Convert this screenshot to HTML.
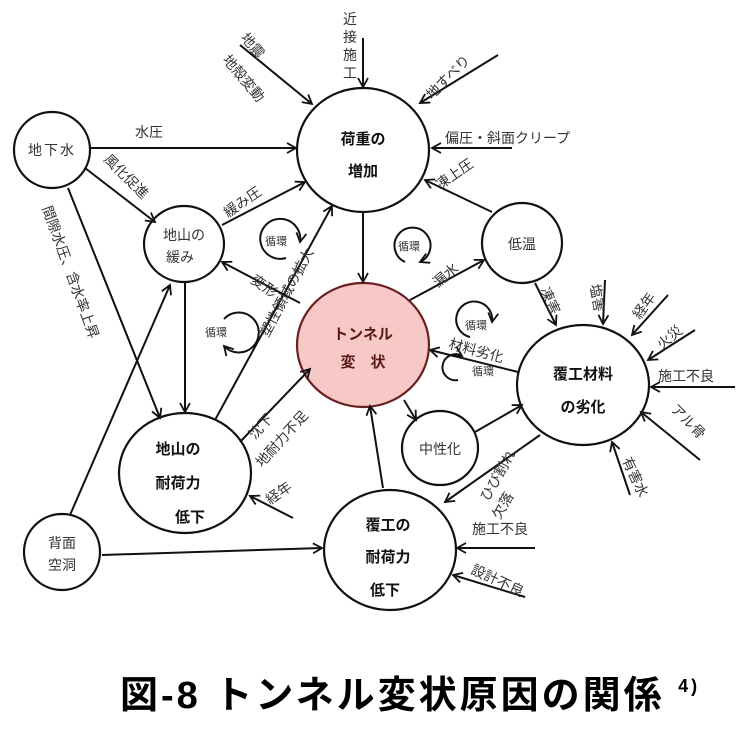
<!DOCTYPE html>
<html><head><meta charset="utf-8"><style>
html,body{margin:0;padding:0;background:#fff;}
svg{display:block;font-family:"Liberation Sans","Noto Sans CJK JP",sans-serif;}
.l{font-size:14px;fill:#333;}
.b{font-size:15px;font-weight:bold;fill:#111;}
</style></head><body>
<svg width="751" height="734" viewBox="0 0 751 734">
<defs>
<marker id="a" markerWidth="12" markerHeight="12" refX="10" refY="6" orient="auto" markerUnits="userSpaceOnUse">
<path d="M1,1 L10,6 L1,11" fill="none" stroke="#111" stroke-width="1.8"/></marker>
</defs>
<g stroke="#111" stroke-width="2.2" fill="none">
<ellipse cx="52" cy="150" rx="38" ry="38"/>
<ellipse cx="363" cy="150" rx="66" ry="62"/>
<ellipse cx="184" cy="244" rx="40" ry="38"/>
<ellipse cx="522" cy="243" rx="40" ry="40"/>
<ellipse cx="363" cy="345" rx="66" ry="62" fill="#f6c8c6" stroke="#6a2020"/>
<ellipse cx="583" cy="385" rx="66" ry="60"/>
<ellipse cx="185" cy="473" rx="66" ry="60"/>
<ellipse cx="440" cy="448" rx="38" ry="37"/>
<ellipse cx="390" cy="550" rx="66" ry="60"/>
<ellipse cx="62" cy="552" rx="38" ry="38"/>
</g>
<g stroke="#111" stroke-width="2" marker-end="url(#a)">
<line x1="363" y1="38" x2="363" y2="87"/>
<line x1="240" y1="45" x2="312" y2="104"/>
<line x1="498" y1="55" x2="420" y2="103"/>
<line x1="512" y1="148" x2="432" y2="148"/>
<line x1="90" y1="148" x2="296" y2="148"/>
<line x1="85" y1="168" x2="155" y2="222"/>
<line x1="222" y1="225" x2="305" y2="182"/>
<line x1="185" y1="282" x2="185" y2="412"/>
<line x1="68" y1="188" x2="160" y2="418"/>
<line x1="70" y1="515" x2="170" y2="285"/>
<line x1="102" y1="555" x2="322" y2="548"/>
<line x1="215" y1="420" x2="332" y2="206"/>
<line x1="300" y1="303" x2="222" y2="262"/>
<line x1="363" y1="212" x2="363" y2="282"/>
<line x1="410" y1="300" x2="484" y2="260"/>
<line x1="492" y1="212" x2="425" y2="180"/>
<line x1="535" y1="283" x2="556" y2="325"/>
<line x1="605" y1="280" x2="603" y2="324"/>
<line x1="668" y1="295" x2="632" y2="335"/>
<line x1="695" y1="330" x2="648" y2="360"/>
<line x1="735" y1="387" x2="651" y2="387"/>
<line x1="700" y1="460" x2="641" y2="412"/>
<line x1="630" y1="495" x2="612" y2="442"/>
<line x1="518" y1="372" x2="430" y2="350"/>
<line x1="404" y1="400" x2="416" y2="420"/>
<line x1="475" y1="432" x2="522" y2="405"/>
<line x1="540" y1="435" x2="445" y2="502"/>
<line x1="383" y1="488" x2="370" y2="406"/>
<line x1="240" y1="442" x2="310" y2="369"/>
<line x1="293" y1="518" x2="250" y2="496"/>
<line x1="535" y1="548" x2="457" y2="548"/>
<line x1="525" y1="597" x2="453" y2="575"/>
</g>
<g stroke="#111" stroke-width="2" fill="none" marker-end="url(#a)">
<path d="M286,258 A20,20 0 1 1 300,242"/>
<path d="M226,345 A20,20 0 1 1 226,318" transform="rotate(180 225 332)"/>
<path d="M405,262 A18,18 0 1 1 420,262"/>
<path d="M470,337 A18,18 0 1 1 492,322"/>
<path d="M458,380 A13,13 0 1 1 462,356"/>
</g>
<g class="l">
<text x="265" y="245" style="font-size:11px">循環</text>
<text x="205" y="336" style="font-size:11px">循環</text>
<text x="398" y="250" style="font-size:11px">循環</text>
<text x="465" y="329" style="font-size:11px">循環</text>
<text x="472" y="375" style="font-size:11px">循環</text>
</g>
<g class="b" text-anchor="middle">
<text x="363" y="144">荷重の</text><text x="363" y="176">増加</text>
<text x="363" y="339" fill="#5a1a1a">トンネル</text><text x="363" y="367" fill="#5a1a1a">変　状</text>
<text x="583" y="379">覆工材料</text><text x="583" y="412">の劣化</text>
<text x="178" y="454">地山の</text><text x="178" y="488">耐荷力</text><text x="190" y="522">低下</text>
<text x="388" y="530">覆工の</text><text x="388" y="562">耐荷力</text><text x="385" y="595">低下</text>
</g>
<g class="l" text-anchor="middle">
<text x="52" y="155" letter-spacing="2">地下水</text>
<text x="184" y="240">地山の</text><text x="180" y="262">緩み</text>
<text x="522" y="249">低温</text>
<text x="440" y="454">中性化</text>
<text x="62" y="548">背面</text><text x="62" y="570">空洞</text>
</g>
<g class="l">
<text x="343" y="24">近</text><text x="343" y="42">接</text><text x="343" y="60">施</text><text x="343" y="78">工</text>
<text transform="translate(240,38) rotate(50)">地震</text>
<text transform="translate(222,60) rotate(50)">地殻変動</text>
<text transform="translate(432,100) rotate(-45)">地すべり</text>
<text x="445" y="143">偏圧・斜面クリープ</text>
<text x="135" y="137">水圧</text>
<text transform="translate(103,160) rotate(45)">風化促進</text>
<text transform="translate(228,218) rotate(-35)">緩み圧</text>
<text transform="translate(42,208) rotate(70)">間隙水圧、含水率上昇</text>
<text transform="translate(250,282) rotate(35)">変形</text>
<text transform="translate(268,338) rotate(-62)">塑性領域の拡大</text>
<text transform="translate(438,288) rotate(-40)">漏水</text>
<text transform="translate(440,190) rotate(-35)">凍上圧</text>
<text transform="translate(540,290) rotate(65)">凍害</text>
<text transform="translate(590,285) rotate(80)">塩害</text>
<text transform="translate(640,320) rotate(-55)">経年</text>
<text transform="translate(662,350) rotate(-40)">火災</text>
<text x="658" y="381">施工不良</text>
<text transform="translate(670,410) rotate(45)">アル骨</text>
<text transform="translate(622,460) rotate(65)">有害水</text>
<text transform="translate(448,348) rotate(15)">材料劣化</text>
<text transform="translate(262,468) rotate(-48)">地耐力不足</text>
<text transform="translate(255,440) rotate(-48)">沈下</text>
<text transform="translate(270,505) rotate(-35)">経年</text>
<text transform="translate(488,502) rotate(-60)">ひび割れ</text>
<text transform="translate(500,520) rotate(-60)">欠落</text>
<text x="472" y="534">施工不良</text>
<text transform="translate(470,573) rotate(25)">設計不良</text>
</g>
<text x="120" y="708" letter-spacing="3" style="font-size:38px;font-weight:bold;fill:#000">図-8 トンネル変状原因の関係 <tspan style="font-size:18px" dy="-16">4)</tspan></text>
</svg>
</body></html>
